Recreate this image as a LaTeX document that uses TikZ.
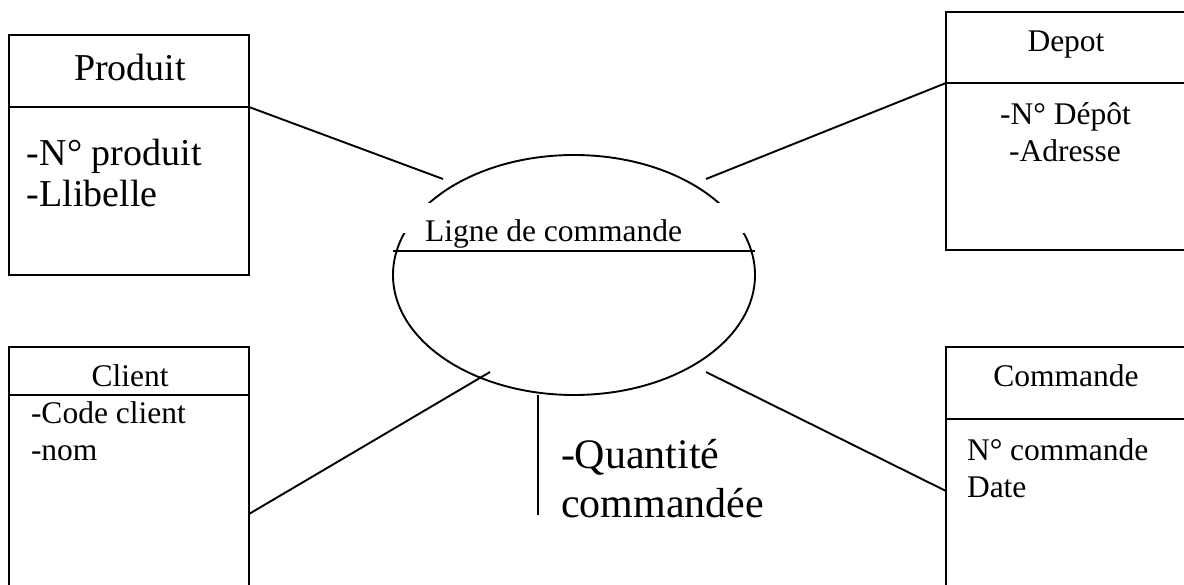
\documentclass[tikz,border=0pt]{standalone}
\usepackage{fontspec}
\setmainfont{Liberation Serif}
\usetikzlibrary{shapes.geometric}
\begin{document}
\begin{tikzpicture}[x=1pt,y=-1pt,line width=1.9pt,
  box/.style={draw,rectangle,inner sep=0pt,outer sep=0pt},
  small/.style={inner sep=0pt,outer sep=0pt,font=\fontsize{31.5}{37}\selectfont},
  big/.style={inner sep=0pt,outer sep=0pt,font=\fontsize{38}{41}\selectfont},
  huge/.style={inner sep=0pt,outer sep=0pt,font=\fontsize{42}{49}\selectfont},
  link/.style={draw,line width=1.9pt}]
\clip (0,0) rectangle (1184,585);
\fill[white] (0,0) rectangle (1184,585);

% Produit
\node[box,minimum width=240pt,minimum height=72pt] (produitH) at (129,71) {};
\node[box,minimum width=240pt,minimum height=168pt] (produitB) at (129,191) {};
\node[big,anchor=base] (produitT) at (130,81) {Produit};
\node[big,anchor=base west] (produitA1) at (27,166) {-N° produit};
\node[big,anchor=base west] (produitA2) at (27,207) {-Llibelle};

% Depot
\node[box,minimum width=244pt,minimum height=71pt] (depotH) at (1068,47.5) {};
\node[box,minimum width=244pt,minimum height=167pt] (depotB) at (1068,166.5) {};
\node[small,anchor=base] (depotT) at (1066,52) {Depot};
\node[small,anchor=base] (depotA1) at (1065.5,125) {-N° Dépôt};
\node[small,anchor=base] (depotA2) at (1065,162) {-Adresse};

% Client
\node[box,minimum width=240pt,minimum height=48pt] (clientH) at (129,371) {};
\node[box,minimum width=240pt,minimum height=197pt] (clientB) at (129,493.5) {};
\node[small,anchor=base] (clientT) at (130,387) {Client};
\node[small,anchor=base west] (clientA1) at (31,423) {-Code client};
\node[small,anchor=base west] (clientA2) at (31,460) {-nom};

% Commande
\node[box,minimum width=244pt,minimum height=72pt] (commandeH) at (1068,383) {};
\node[box,minimum width=244pt,minimum height=173pt] (commandeB) at (1068,505.5) {};
\node[small,anchor=base] (commandeT) at (1066,387) {Commande};
\node[small,anchor=base west] (commandeA1) at (967,460) {N° commande};
\node[small,anchor=base west] (commandeA2) at (967,497) {Date};

% Ligne de commande (association)
\node[draw,ellipse,minimum width=362pt,minimum height=240pt,inner sep=0pt] (lc) at (574,275) {};
\node[fill=white,minimum width=347pt,minimum height=30pt,inner sep=0pt] (lcmask) at (574.5,218) {};
\begin{scope}
  \clip (380,150) rectangle (770,251);
  \node[small,anchor=base west] (lcT) at (425,242) {Ligne de commande};
\end{scope}
\coordinate (lcL) at (393,251);
\coordinate (lcR) at (755,251);
\draw (lcL) -- (lcR);

% Attribute of the association
\coordinate (q1) at (538,395);
\coordinate (q2) at (538,515);
\draw (q1) -- (q2);
\node[huge,anchor=base west] (qA1) at (561,468) {-Quantité};
\node[huge,anchor=base west] (qA2) at (561,517) {commandée};

% Connectors
\coordinate (pE) at (443,179);
\coordinate (dE) at (706,179);
\coordinate (cS) at (249,514);
\coordinate (cE) at (490,372);
\coordinate (kS) at (946,491);
\coordinate (kE) at (706,372);
\draw[link] (produitB.north east) -- (pE);
\draw[link] (depotB.north west) -- (dE);
\draw[link] (cS) -- (cE);
\draw[link] (kS) -- (kE);
\end{tikzpicture}
\end{document}
